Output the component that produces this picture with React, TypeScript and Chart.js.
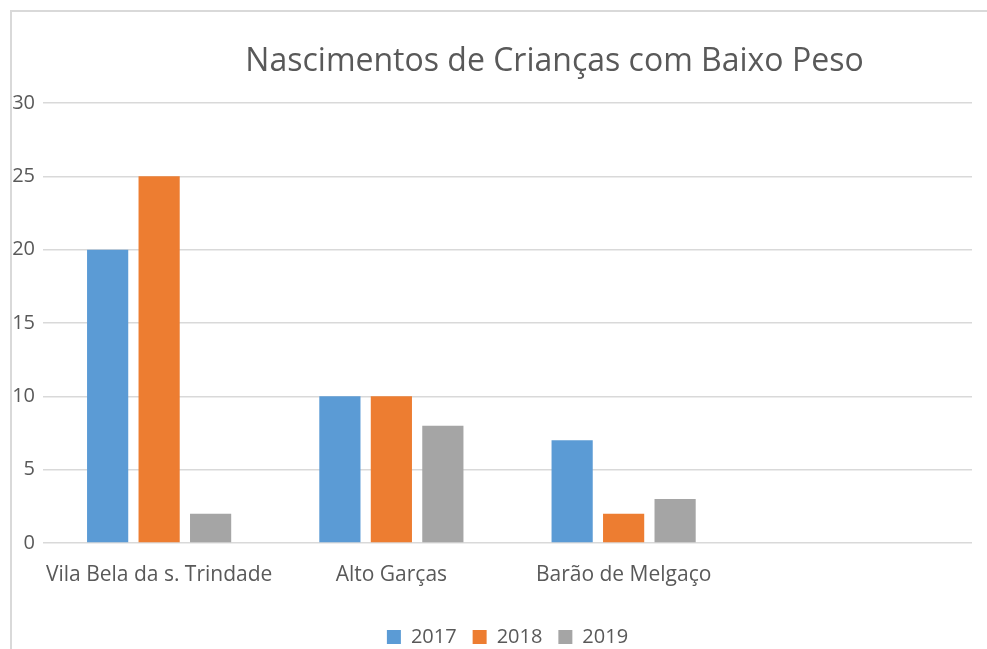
import React, { useEffect, useRef } from "react";
import { Chart, registerables } from "chart.js";

Chart.register(...registerables);

const TITLE = "Nascimentos de Crianças com Baixo Peso";
const CATEGORIES = ["Vila Bela da s. Trindade", "Alto Garças", "Barão de Melgaço", ""];
const SERIES_NAMES = ["2017", "2018", "2019"];
const VALUES_2017 = [20, 10, 7, null];
const VALUES_2018 = [25, 10, 2, null];
const VALUES_2019 = [2, 8, 3, null];
const COLORS = ["#5B9BD5", "#ED7D31", "#A5A5A5"];
const Y_MIN = 0;
const Y_MAX = 30;
const Y_STEP = 5;

const FONT = "'Open Sans', 'Noto Sans', sans-serif";
const TEXT_COLOR = "#595959";
const GRID_COLOR = "#d9d9d9";

const titlePlugin = {
  id: "excelTitle",
  afterDraw(chart: any) {
    const { ctx, chartArea } = chart;
    ctx.save();
    ctx.font = `32px ${FONT}`;
    ctx.fillStyle = TEXT_COLOR;
    ctx.textAlign = "center";
    ctx.textBaseline = "middle";
    const cx = (chartArea.left + chartArea.right) / 2 + 47;
    ctx.fillText(TITLE, cx, chartArea.top - 41);
    ctx.restore();
  },
};

export default function App() {
  const canvasRef = useRef<HTMLCanvasElement | null>(null);

  useEffect(() => {
    if (!canvasRef.current) return;
    const seriesValues = [VALUES_2017, VALUES_2018, VALUES_2019];
    const chart = new Chart(canvasRef.current, {
      type: "bar",
      data: {
        labels: CATEGORIES,
        datasets: SERIES_NAMES.map((name, i) => ({
          label: name,
          data: seriesValues[i],
          backgroundColor: COLORS[i],
          borderWidth: 0,
          categoryPercentage: 0.665,
          barPercentage: 0.8,
        })),
      },
      options: {
        animation: false,
        responsive: false,
        maintainAspectRatio: false,
        layout: { padding: { top: 103, left: 0, right: 15, bottom: -8 } },
        plugins: {
          title: { display: false },
          tooltip: { enabled: false },
          legend: {
            display: true,
            position: "bottom",
            fullSize: false,
            labels: {
              boxWidth: 14,
              boxHeight: 14,
              padding: 16,
              color: TEXT_COLOR,
              font: { family: FONT, size: 20 },
            },
          },
        },
        scales: {
          x: {
            grid: { display: false, drawTicks: false },
            border: { display: false },
            ticks: {
              color: TEXT_COLOR,
              font: { family: FONT, size: 21 },
              padding: 19,
              maxRotation: 0,
              autoSkip: false,
            },
            afterFit(scale: any) {
              scale.height = 68;
            },
          },
          y: {
            min: Y_MIN,
            max: Y_MAX,
            grid: { color: GRID_COLOR, lineWidth: 1.5, drawTicks: false },
            border: { display: false },
            ticks: {
              stepSize: Y_STEP,
              color: TEXT_COLOR,
              font: { family: FONT, size: 20 },
              padding: 8,
            },
            afterFit(scale: any) {
              scale.width = 43;
            },
          },
        },
      },
      plugins: [titlePlugin],
    });
    return () => chart.destroy();
  }, []);

  return (
    <div
      style={{
        position: "fixed",
        left: 0,
        top: 0,
        width: 987,
        height: 649,
        overflow: "hidden",
        background: "#ffffff",
      }}
    >
      <div
        style={{
          position: "absolute",
          left: 10,
          top: 10,
          width: 1200,
          height: 900,
          border: "2px solid #d9d9d9",
          boxSizing: "border-box",
        }}
      />
      <canvas
        ref={canvasRef}
        width={987}
        height={649}
        style={{ position: "absolute", left: 0, top: 0, width: 987, height: 649 }}
      />
    </div>
  );
}
